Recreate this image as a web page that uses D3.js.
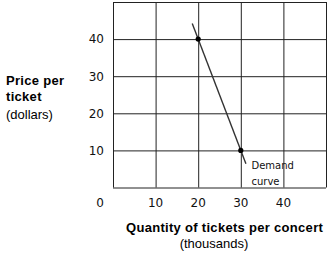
<!DOCTYPE html>
<html>
<head>
<meta charset="utf-8">
<script src="https://cdn.jsdelivr.net/npm/d3@7/dist/d3.min.js"></script>
<style>
  html, body { margin: 0; padding: 0; background: #fff; }
  svg { display: block; }
</style>
</head>
<body>
<svg id="chart" width="333" height="256"></svg>
<script>
// Axis ticks (thousands of tickets, dollars)
const xTicks = [0, 10, 20, 30, 40];
const yTicks = [10, 20, 30, 40];
const gridX = [10, 20, 30, 40, 50];
const gridY = [10, 20, 30, 40, 50];

// Demand curve segment and the two marked points on it
const demandLine = [
  { q: 18.6, p: 44.2 },
  { q: 31.2, p: 6.4 }
];
const demandPoints = [
  { q: 20, p: 40 },
  { q: 30, p: 10 }
];

const svg = d3.select("#chart");

const x = d3.scaleLinear().domain([0, 50]).range([113, 326]);
const y = d3.scaleLinear().domain([0, 50]).range([187.5, 2]);

const gridColor = "#222";

// grid
svg.append("g").selectAll("line.v").data(gridX).join("line")
  .attr("x1", d => x(d) + 0.5).attr("x2", d => x(d) + 0.5)
  .attr("y1", y(0)).attr("y2", y(50))
  .attr("stroke", gridColor).attr("stroke-width", 1);
svg.append("g").selectAll("line.h").data(gridY).join("line")
  .attr("x1", x(0)).attr("x2", x(50))
  .attr("y1", d => y(d) + 0.5).attr("y2", d => y(d) + 0.5)
  .attr("stroke", gridColor).attr("stroke-width", 1);

// axes lines
svg.append("line")
  .attr("x1", x(0) + 0.5).attr("x2", x(0) + 0.5)
  .attr("y1", y(0)).attr("y2", y(50))
  .attr("stroke", gridColor);
svg.append("line")
  .attr("x1", x(0)).attr("x2", x(50))
  .attr("y1", y(0) + 0.5).attr("y2", y(0) + 0.5)
  .attr("stroke", gridColor);

const tickFont = "DejaVu Sans, Verdana, sans-serif";

// y tick labels
svg.append("g").selectAll("text").data(yTicks).join("text")
  .attr("x", 104)
  .attr("y", d => y(d))
  .attr("dy", "0.36em")
  .attr("text-anchor", "end")
  .attr("font-family", tickFont)
  .attr("font-size", 12)
  .attr("fill", "#111")
  .text(d => d);

// x tick labels (0 sits left of the corner)
svg.append("g").selectAll("text").data(xTicks).join("text")
  .attr("x", d => d === 0 ? 100 : x(d))
  .attr("y", 207)
  .attr("text-anchor", "middle")
  .attr("font-family", tickFont)
  .attr("font-size", 12)
  .attr("fill", "#111")
  .text(d => d);

// demand curve
const line = d3.line().x(d => x(d.q)).y(d => y(d.p));
svg.append("path")
  .datum(demandLine)
  .attr("d", line)
  .attr("fill", "none")
  .attr("stroke", "#333")
  .attr("stroke-width", 1.4);

svg.append("g").selectAll("circle").data(demandPoints).join("circle")
  .attr("cx", d => x(d.q))
  .attr("cy", d => y(d.p))
  .attr("r", 2.6)
  .attr("fill", "#000");

// curve label
const lbl = svg.append("text")
  .attr("font-family", tickFont)
  .attr("font-size", 10)
  .attr("fill", "#111");
lbl.append("tspan").attr("x", 251.5).attr("y", 169).text("Demand");
lbl.append("tspan").attr("x", 251.5).attr("y", 185).text("curve");

// axis titles
const titleFont = "Liberation Sans, Arial, sans-serif";
const yt = svg.append("text")
  .attr("font-family", titleFont)
  .attr("fill", "#000");
yt.append("tspan").attr("x", 6).attr("y", 85)
  .attr("font-weight", "bold").attr("font-size", 13).attr("letter-spacing", 0.3)
  .text("Price per");
yt.append("tspan").attr("x", 6).attr("y", 101)
  .attr("font-weight", "bold").attr("font-size", 13).attr("letter-spacing", 0.3)
  .text("ticket");
yt.append("tspan").attr("x", 6).attr("y", 119)
  .attr("font-size", 13)
  .text("(dollars)");

svg.append("text")
  .attr("x", 126).attr("y", 232)
  .attr("font-family", titleFont)
  .attr("font-weight", "bold")
  .attr("font-size", 13)
  .attr("letter-spacing", 0.3)
  .attr("fill", "#000")
  .text("Quantity of tickets per concert");
svg.append("text")
  .attr("x", 214).attr("y", 248)
  .attr("text-anchor", "middle")
  .attr("font-family", titleFont)
  .attr("font-size", 13)
  .attr("fill", "#000")
  .text("(thousands)");
</script>
</body>
</html>
